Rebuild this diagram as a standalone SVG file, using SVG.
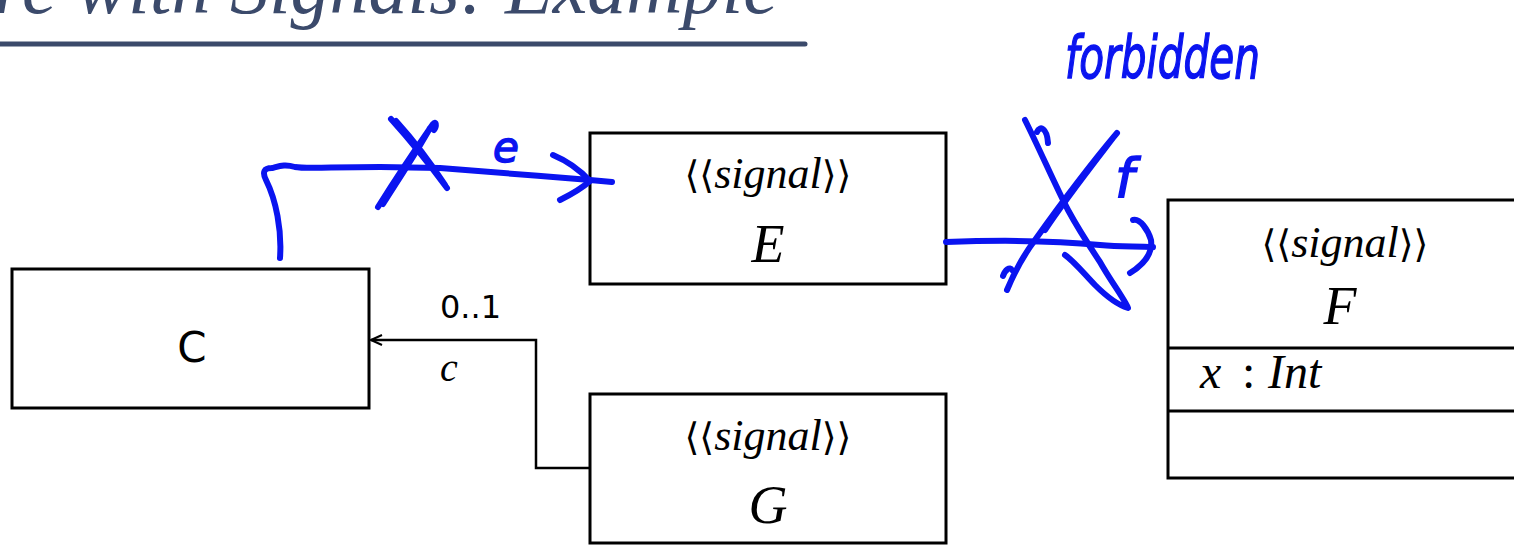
<svg xmlns="http://www.w3.org/2000/svg" width="1514" height="546" viewBox="0 0 1514 546">
<style>
.box{fill:#fff;stroke:#000;stroke-width:3}
.ln{fill:none;stroke:#000;stroke-width:2.5}
.st{font-family:"Liberation Serif",serif;font-style:italic;font-size:44px;text-anchor:middle}
.br{font-family:"DejaVu Serif",serif;font-style:normal;font-size:38px}
.nm{font-family:"Liberation Serif",serif;font-style:italic;font-size:54px;text-anchor:middle}
.sans{font-family:"DejaVu Sans","Liberation Sans",sans-serif}
.ink{fill:none;stroke:#0a14f0;stroke-width:6;stroke-linecap:round;stroke-linejoin:round}
.inkt{fill:#0a14f0;stroke:#0a14f0;stroke-width:1.5;font-family:"DejaVu Sans",sans-serif;font-style:italic}
</style>
<defs>
<marker id="open" markerWidth="14" markerHeight="12" refX="12" refY="6" orient="auto" markerUnits="userSpaceOnUse">
<path d="M1,1 L12,6 L1,11" fill="none" stroke="#000" stroke-width="2"/>
</marker>
</defs>
<g id="title">
<text x="778" y="13" text-anchor="end" font-family="Liberation Serif,serif" font-style="italic" font-size="78" fill="#3b4a6b">ure with Signals: Example</text>
<line x1="0" y1="44" x2="805" y2="44" stroke="#3b4a6b" stroke-width="5" stroke-linecap="round"/>
</g>
<g id="connectors">
<path class="ln" d="M590,468 H536 V340 H371" marker-end="url(#open)"/>
<text class="sans" x="440" y="318" font-size="32">0..1</text>
<text x="440" y="381" font-family="Liberation Serif,serif" font-style="italic" font-size="40">c</text>
</g>
<g id="C">
<rect class="box" x="12" y="269" width="357" height="139"/>
<text class="sans" x="192" y="362" font-size="42" text-anchor="middle">C</text>
</g>
<g id="E">
<rect class="box" x="590" y="133" width="356" height="151"/>
<text class="st" x="768" y="188"><tspan class="br">⟨⟨</tspan>signal<tspan class="br">⟩⟩</tspan></text>
<text class="nm" x="768" y="262">E</text>
</g>
<g id="G">
<rect class="box" x="590" y="394" width="356" height="149"/>
<text class="st" x="768" y="450"><tspan class="br">⟨⟨</tspan>signal<tspan class="br">⟩⟩</tspan></text>
<text class="nm" x="768" y="523">G</text>
</g>
<g id="F">
<rect class="box" x="1168" y="200" width="360" height="278"/>
<line class="box" x1="1168" y1="348" x2="1514" y2="348"/>
<line class="box" x1="1168" y1="411" x2="1514" y2="411"/>
<text class="st" x="1345" y="257"><tspan class="br">⟨⟨</tspan>signal<tspan class="br">⟩⟩</tspan></text>
<text class="nm" x="1340" y="324">F</text>
<text y="388" font-family="Liberation Serif,serif" font-style="italic" font-size="48"><tspan x="1200">x</tspan><tspan x="1242" font-style="normal">:</tspan><tspan x="1268">Int</tspan></text>
</g>
<g id="ink">
<path class="ink" d="M280,258 C282,230 276,200 266,180 C262,172 264,168 272,168 C280,166 285,164 295,167 C305,169 330,167 380,167 L440,168 C480,171 540,176 590,180 L612,182"/>
<path class="ink" d="M553,155 C565,160 578,168 590,181 C580,190 570,195 560,200"/>
<path class="ink" d="M391,119 C410,140 430,165 447,188 M396,121 C415,142 432,165 445,185"/>
<path class="ink" d="M378,207 C395,180 415,150 433,124 C436,120 437,126 434,130 M383,204 C398,180 415,155 430,128"/>
<path class="ink" d="M946,242 C1000,240 1050,240 1100,245 C1120,247 1135,246 1153,247"/>
<path class="ink" d="M1133,220 C1140,218 1148,230 1151,240 C1153,255 1143,265 1130,273"/>
<path class="ink" d="M1025,120 C1040,150 1055,185 1068,210 C1080,232 1092,250 1100,262 C1110,280 1125,300 1128,308 C1118,305 1105,295 1095,285 C1085,275 1075,262 1065,255"/>
<path class="ink" d="M1117,133 C1090,165 1060,205 1035,240 C1020,260 1012,278 1007,290 M1003,276 C1005,270 1010,266 1012,270 M1113,138 C1090,168 1065,200 1045,230"/>
<path class="ink" d="M1037,132 C1040,125 1047,128 1048,143"/>
<text class="inkt" x="493" y="162" font-size="42">e</text>
<text class="inkt" x="1115" y="197" font-size="54">f</text>
<text class="inkt" x="1065" y="78" font-size="58" textLength="195" lengthAdjust="spacingAndGlyphs">forbidden</text>
</g>
</svg>
